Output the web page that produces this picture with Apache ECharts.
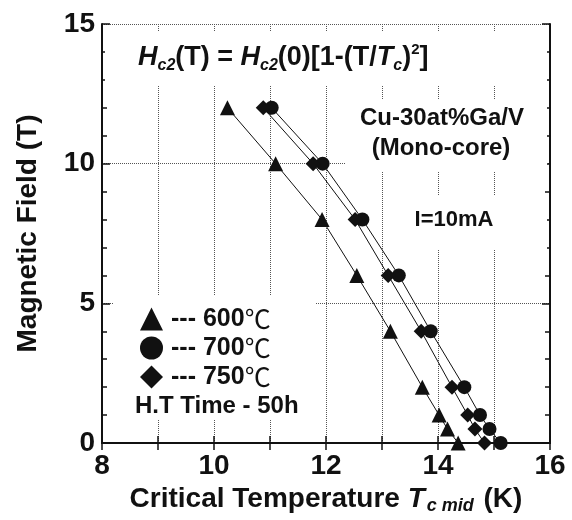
<!DOCTYPE html>
<html><head><meta charset="utf-8">
<script src="https://cdn.jsdelivr.net/npm/echarts@6/dist/echarts.min.js"></script>
<style>html,body{margin:0;padding:0;background:#fff}#c{width:572px;height:520px}</style>
</head><body><div id="c"></div>
<script>
// Magnetic field (T) at which each Tc was measured
const fieldT = [12, 10, 8, 6, 4, 2, 1, 0.5, 0];
// Critical temperature Tc mid (K) for each heat-treatment temperature
const tc600 = [10.24, 11.10, 11.93, 12.55, 13.15, 13.72, 14.02, 14.17, 14.36];
const tc700 = [11.03, 11.94, 12.65, 13.30, 13.87, 14.47, 14.75, 14.92, 15.12];
const tc750 = [10.88, 11.77, 12.52, 13.11, 13.70, 14.25, 14.53, 14.66, 14.83];
const seriesNames = ['600℃', '700℃', '750℃'];
const seriesSymbols = ['triangle', 'circle', 'diamond'];
const xTickLabels = [8, 10, 12, 14, 16];
const yTickLabels = [0, 5, 10, 15];

const FONT = "'Liberation Sans', Arial, Helvetica, sans-serif";
const CJK = "'Noto Sans CJK JP', 'Noto Sans CJK SC', sans-serif";
const INK = '#111';
const chart = echarts.init(document.getElementById('c'), null, {renderer: 'canvas'});

const tcSets = [tc600, tc700, tc750];
const symSizes = [15, 14, 15];
const series = tcSets.map((tc, k) => ({
  name: seriesNames[k],
  type: 'line',
  data: tc.map((t, i) => [t, fieldT[i]]),
  symbol: seriesSymbols[k],
  symbolSize: symSizes[k],
  itemStyle: {color: INK},
  lineStyle: {color: INK, width: 1},
  z: 3
}));

const gridDot = {type: 'dotted', color: '#555', width: 1};
const tickStyle = {color: INK, width: 1.5};
const axisLineStyle = {lineStyle: {color: INK, width: 2}};

function mask(x, y, w, h) {
  return {type: 'rect', shape: {x: x, y: y, width: w, height: h}, style: {fill: '#fff'}, z: 1, silent: true};
}
function label(x, y, text, size, align) {
  return {type: 'text', x: x, y: y, z: 5,
    style: {text: text, fill: INK, font: 'bold ' + size + 'px ' + FONT, lineHeight: 30,
            align: align || 'left', verticalAlign: 'middle'}};
}

chart.setOption({
  animation: false,
  backgroundColor: '#fff',
  grid: {left: 102, right: 22, top: 24, bottom: 77},
  xAxis: [{
    type: 'value', min: 8, max: 16, interval: 2, position: 'bottom',
    axisLine: axisLineStyle,
    axisTick: {show: true, inside: true, length: 7, lineStyle: tickStyle},
    minorTick: {show: true, splitNumber: 2, length: 7, lineStyle: tickStyle},
    splitLine: {show: true, lineStyle: gridDot},
    minorSplitLine: {show: true, lineStyle: gridDot},
    axisLabel: {
      fontSize: 28, fontWeight: 'bold', fontFamily: FONT, color: INK, margin: 9,
      customValues: xTickLabels
    },
    name: '{b|Critical Temperature }{i|T}{s|c mid}{b| (K)}',
    nameLocation: 'middle', nameGap: 40,
    nameTextStyle: {
      rich: {
        b: {fontSize: 28, fontWeight: 'bold', fontFamily: FONT, color: INK, lineHeight: 32, verticalAlign: 'middle'},
        i: {fontSize: 28, fontWeight: 'bold', fontStyle: 'italic', fontFamily: FONT, color: INK, lineHeight: 32, verticalAlign: 'middle'},
        s: {fontSize: 18, fontWeight: 'bold', fontStyle: 'italic', fontFamily: FONT, color: INK, lineHeight: 13, verticalAlign: 'bottom', padding: [0, 2, 0, 2]}
      }
    }
  }, {
    type: 'value', min: 8, max: 16, interval: 2, position: 'top',
    axisLine: axisLineStyle,
    axisTick: {show: true, inside: true, length: 7, lineStyle: tickStyle},
    minorTick: {show: true, splitNumber: 2, length: 7, lineStyle: tickStyle},
    splitLine: {show: false}, axisLabel: {show: false}
  }],
  yAxis: [{
    type: 'value', min: 0, max: 15, interval: 5, position: 'left',
    axisLine: axisLineStyle,
    axisTick: {show: true, inside: true, length: 8, lineStyle: tickStyle},
    minorTick: {show: true, splitNumber: 5, length: 5, lineStyle: tickStyle},
    splitLine: {show: true, lineStyle: gridDot},
    axisLabel: {
      fontSize: 28, fontWeight: 'bold', fontFamily: FONT, color: INK, margin: 7,
      customValues: yTickLabels
    },
    name: 'Magnetic Field (T)', nameLocation: 'middle', nameGap: 60, nameRotate: 90,
    nameTextStyle: {fontSize: 28, fontWeight: 'bold', fontFamily: FONT, color: INK}
  }, {
    type: 'value', min: 0, max: 15, interval: 5, position: 'right',
    axisLine: axisLineStyle,
    axisTick: {show: true, inside: true, length: 8, lineStyle: tickStyle},
    minorTick: {show: true, splitNumber: 5, length: 5, lineStyle: tickStyle},
    splitLine: {show: false}, axisLabel: {show: false}
  }],
  legend: {
    orient: 'vertical', left: 135, top: 301,
    itemWidth: 23, itemHeight: 23, itemGap: 3, symbolKeepAspect: true,
    data: seriesNames.map((n, k) => ({name: n, icon: seriesSymbols[k]})),
    formatter: name => '--- ' + name.replace('℃', '') + '{c|℃}',
    textStyle: {
      fontSize: 25, fontWeight: 'bold', fontFamily: FONT, color: INK, lineHeight: 23, padding: [0, 0, 0, 3],
      rich: {c: {fontSize: 26, fontWeight: 'normal', fontFamily: CJK, color: INK, lineHeight: 23}}
    },
    itemStyle: {color: INK},
    selectedMode: false
  },
  graphic: [
    mask(105, 32, 442, 54),
    mask(345, 100, 202, 72),
    mask(400, 196, 147, 54),
    mask(113, 296, 202, 123),
    {
      type: 'text', left: 138, top: 42, z: 5,
      style: {
        text: '{i|H}{s|c2}{b|(T) = }{i|H}{s|c2}{b|(0)[1-(T/}{i|T}{s|c}{b|)}{p|2}{b|]}',
        rich: {
          b: {fontSize: 27, fontWeight: 'bold', fontFamily: FONT, fill: INK, lineHeight: 32, verticalAlign: 'middle'},
          i: {fontSize: 27, fontWeight: 'bold', fontStyle: 'italic', fontFamily: FONT, fill: INK, lineHeight: 32, verticalAlign: 'middle'},
          s: {fontSize: 16, fontWeight: 'bold', fontStyle: 'italic', fontFamily: FONT, fill: INK, lineHeight: 12, verticalAlign: 'bottom'},
          p: {fontSize: 15, fontWeight: 'bold', fontFamily: FONT, fill: INK, lineHeight: 12, verticalAlign: 'top'}
        }
      }
    },
    label(442, 118, 'Cu-30at%Ga/V', 24, 'center'),
    label(441, 148, '(Mono-core)', 24, 'center'),
    label(454, 220, 'I=10mA', 22, 'center'),
    label(135, 406, 'H.T Time - 50h', 24, 'left')
  ],
  series: series
});
</script>
</body></html>
